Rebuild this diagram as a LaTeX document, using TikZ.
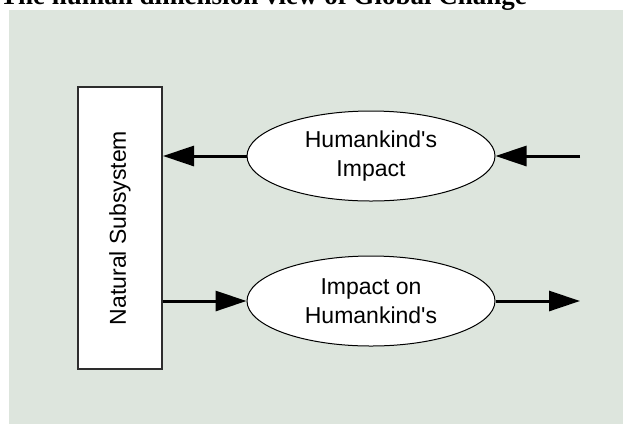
\documentclass[tikz,border=0pt]{standalone}
\usepackage{fontspec}
\setmainfont{Liberation Serif}
\newfontfamily\arialfont{Liberation Sans}
\usepackage{tikz}
\usetikzlibrary{shapes,arrows.meta,positioning,calc}
\definecolor{bggreen}{RGB}{221,229,221}
\definecolor{boxline}{RGB}{45,45,45}

\begin{document}
\begin{tikzpicture}[x=1pt, y=-1pt,
  txt/.style={font=\arialfont\fontsize{23}{29}\selectfont, align=center},
  impact/.style={ellipse, draw, fill=white, line width=1pt, minimum width=248pt,
    minimum height=90pt, inner sep=0pt, txt},
  flow/.style={line width=3pt, -{Triangle[length=31pt, width=20pt]}}]
  \useasboundingbox (0,0) rectangle (623,424);
  \clip (0,0) rectangle (623,424);

  % Background and title
  \fill[bggreen] (9,10) rectangle (623,424);
  \node[anchor=base west, inner sep=0pt, font=\bfseries\fontsize{27}{32}\selectfont]
    (title) at (0,4) {The human dimension view of Global Change};

  % Natural subsystem
  \node[draw=boxline, line width=2pt, fill=white, rotate=90, minimum width=282pt,
    minimum height=84pt, inner sep=0pt, txt] (natural) at (120,228) {Natural Subsystem};

  % Impacts
  \node[impact] (humimpact) at (371,156) {Humankind's\\Impact};
  \node[impact] (onhuman) at (371,301) {Impact on\\Humankind's};

  % Free ends
  \coordinate (inright) at (580,156);
  \coordinate (outright) at (580,301);

  % Flows
  \draw[flow] (humimpact.west) -- (natural.south |- humimpact.west);
  \draw[flow] (inright) -- (humimpact.east);
  \draw[flow] (natural.south |- onhuman.west) -- (onhuman.west);
  \draw[flow] (onhuman.east) -- (outright);
\end{tikzpicture}
\end{document}
